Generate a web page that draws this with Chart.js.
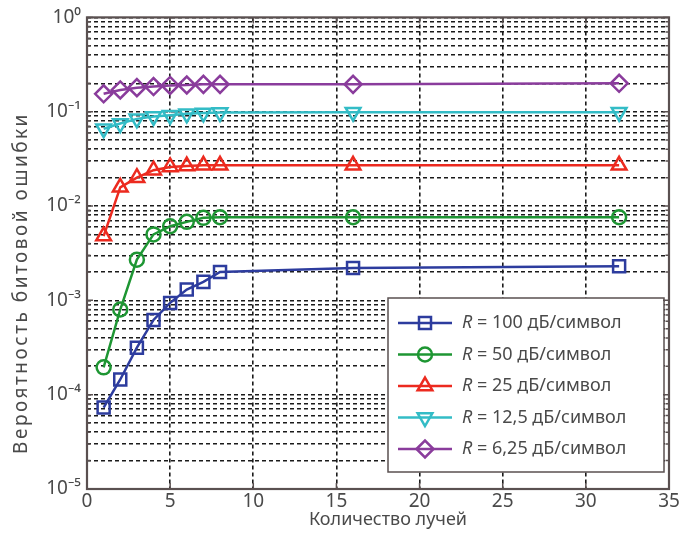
<!DOCTYPE html>
<html>
<head>
<meta charset="utf-8">
<script src="https://cdn.jsdelivr.net/npm/chart.js@4.4.1/dist/chart.umd.min.js"></script>
<style>
  html, body { margin: 0; padding: 0; background: #fff; }
  #wrap { width: 696px; height: 533px; }
</style>
</head>
<body>
<div id="wrap"><canvas id="myChart" width="696" height="533"></canvas></div>
<script>
// number of rays
const rays = [1, 2, 3, 4, 5, 6, 7, 8, 16, 32];

// bit error probability for each R
const r100 = [7.3e-5, 1.45e-4, 3.15e-4, 6.2e-4, 9.4e-4, 1.3e-3, 1.57e-3, 2.0e-3, 2.2e-3, 2.3e-3];
const r50 = [1.95e-4, 8.0e-4, 2.7e-3, 5.0e-3, 6.1e-3, 6.8e-3, 7.5e-3, 7.6e-3, 7.6e-3, 7.6e-3];
const r25 = [4.8e-3, 0.0158, 0.02, 0.024, 0.026, 0.0265, 0.027, 0.027, 0.027, 0.027];
const r12 = [0.066, 0.075, 0.084, 0.089, 0.092, 0.095, 0.097, 0.098, 0.099, 0.099];
const r6 = [0.155, 0.17, 0.18, 0.185, 0.19, 0.192, 0.195, 0.195, 0.195, 0.2];

const seriesNames = ["100", "50", "25", "12,5", "6,25"];
const xTicks = [0, 5, 10, 15, 20, 25, 30, 35];
const supers = { "-5": "⁻⁵", "-4": "⁻⁴", "-3": "⁻³", "-2": "⁻²", "-1": "⁻¹", "0": "⁰" };
const xTitle = "Количество лучей";
const yTitle = "Вероятность битовой ошибки";

const textColor = "#4a4a4a";
const frameColor = "#5a5050";
const fontFamily = "'Noto Sans', 'Open Sans', sans-serif";

function toPoints(ys) {
  return rays.map((x, i) => ({ x: x, y: ys[i] }));
}

const styles = [
  { color: "#2d3c9e", point: "rect", radius: 8.5, rot: 0 },
  { color: "#1e9633", point: "circle", radius: 7, rot: 0 },
  { color: "#ec2a1f", point: "triangle", radius: 8.5, rot: 0 },
  { color: "#33bcc6", point: "triangle", radius: 8.5, rot: 180 },
  { color: "#8a3c9c", point: "rectRot", radius: 8.5, rot: 0 },
];
const allSeries = [r100, r50, r25, r12, r6];

const datasets = allSeries.map((ys, i) => ({
  label: "R = " + seriesNames[i] + " дБ/символ",
  data: toPoints(ys),
  borderColor: styles[i].color,
  backgroundColor: "rgba(0,0,0,0)",
  borderWidth: 2.5,
  pointStyle: styles[i].point,
  pointRadius: styles[i].radius,
  pointRotation: styles[i].rot,
  pointBorderWidth: 2.5,
  pointBorderColor: styles[i].color,
  pointBackgroundColor: "rgba(0,0,0,0)",
  fill: false,
  tension: 0,
}));

// legend drawn inside the plot, lower right
const boxLegend = {
  id: "boxLegend",
  afterDraw(chart) {
    const ctx = chart.ctx;
    const bx = 388, by = 298, bw = 276, bh = 174;
    ctx.save();
    ctx.fillStyle = "#fff";
    ctx.fillRect(bx, by, bw, bh);
    ctx.strokeStyle = frameColor;
    ctx.lineWidth = 1.5;
    ctx.strokeRect(bx, by, bw, bh);
    chart.data.datasets.forEach((ds, i) => {
      const y = by + 25 + i * 31.5;
      ctx.strokeStyle = ds.borderColor;
      ctx.lineWidth = 2.5;
      ctx.beginPath();
      ctx.moveTo(398, y);
      ctx.lineTo(452, y);
      ctx.stroke();
      ctx.fillStyle = "rgba(0,0,0,0)";
      Chart.helpers.drawPoint(ctx, {
        pointStyle: ds.pointStyle,
        radius: ds.pointRadius,
        rotation: ds.pointRotation,
        borderWidth: 2.5,
      }, 425, y);
      ctx.fillStyle = textColor;
      ctx.textBaseline = "middle";
      ctx.textAlign = "left";
      ctx.font = "italic 18px " + fontFamily;
      ctx.fillText("R", 462, y);
      const w = ctx.measureText("R").width;
      ctx.font = "18px " + fontFamily;
      ctx.fillText(" = " + seriesNames[i] + " дБ/символ", 462 + w, y);
    });
    ctx.restore();
  },
};

// frame, inner tick marks and axis titles
const framePlugin = {
  id: "frame",
  afterDraw(chart) {
    const a = chart.chartArea;
    const ctx = chart.ctx;
    const xs = chart.scales.x, ys = chart.scales.y;
    ctx.save();
    ctx.strokeStyle = frameColor;
    ctx.lineWidth = 1.5;
    ctx.beginPath();
    xs.ticks.forEach((t) => {
      const px = xs.getPixelForValue(t.value);
      ctx.moveTo(px, a.bottom); ctx.lineTo(px, a.bottom - 6);
      ctx.moveTo(px, a.top); ctx.lineTo(px, a.top + 6);
    });
    ys.ticks.forEach((t) => {
      const py = ys.getPixelForValue(t.value);
      const len = t.label ? 6 : 3.5;
      ctx.moveTo(a.left, py); ctx.lineTo(a.left + len, py);
      ctx.moveTo(a.right, py); ctx.lineTo(a.right - len, py);
    });
    ctx.stroke();

    ctx.lineWidth = 2.2;
    ctx.strokeRect(a.left, a.top, a.right - a.left, a.bottom - a.top);

    ctx.fillStyle = textColor;
    ctx.textAlign = "center";
    ctx.textBaseline = "middle";
    ctx.font = "18px " + fontFamily;
    ctx.fillText(xTitle, 388, 520);

    ctx.translate(22, 283);
    ctx.rotate(-Math.PI / 2);
    ctx.font = "19px " + fontFamily;
    ctx.letterSpacing = "2.5px";
    ctx.fillText(yTitle, 0, 0);
    ctx.restore();
  },
};

new Chart(document.getElementById("myChart"), {
  type: "line",
  data: { datasets: datasets },
  options: {
    responsive: false,
    animation: false,
    layout: { padding: { left: 0, right: 27, top: 16, bottom: 0 } },
    plugins: {
      legend: { display: false },
      tooltip: { enabled: false },
    },
    scales: {
      x: {
        type: "linear",
        min: 0,
        max: 35,
        afterBuildTicks: (scale) => {
          scale.ticks = xTicks.map((v) => ({ value: v }));
        },
        afterFit: (scale) => { scale.height = 44; },
        grid: { color: "#1a1a1a", lineWidth: 1.6, drawTicks: false },
        border: { display: false, dash: [4, 3] },
        ticks: {
          color: textColor,
          padding: 1,
          maxRotation: 0,
          autoSkip: false,
          font: { family: fontFamily, size: 19 },
        },
      },
      y: {
        type: "logarithmic",
        min: 1e-5,
        max: 1,
        afterBuildTicks: (scale) => {
          const t = [];
          for (let d = -5; d < 0; d++) {
            for (let m = 1; m < 10; m++) t.push({ value: m * Math.pow(10, d) });
          }
          t.push({ value: 1 });
          scale.ticks = t;
        },
        afterFit: (scale) => { scale.width = 87; },
        grid: { color: "#1a1a1a", lineWidth: 1.6, drawTicks: false },
        border: { display: false, dash: [4, 3] },
        ticks: {
          color: textColor,
          padding: 6,
          autoSkip: false,
          font: { family: fontFamily, size: 19 },
          callback: (v) => {
            const e = Math.round(Math.log10(v));
            if (Math.abs(Math.log10(v) - e) > 1e-6) return "";
            return "10" + supers[String(e)];
          },
        },
      },
    },
  },
  plugins: [boxLegend, framePlugin],
});
</script>
</body>
</html>
